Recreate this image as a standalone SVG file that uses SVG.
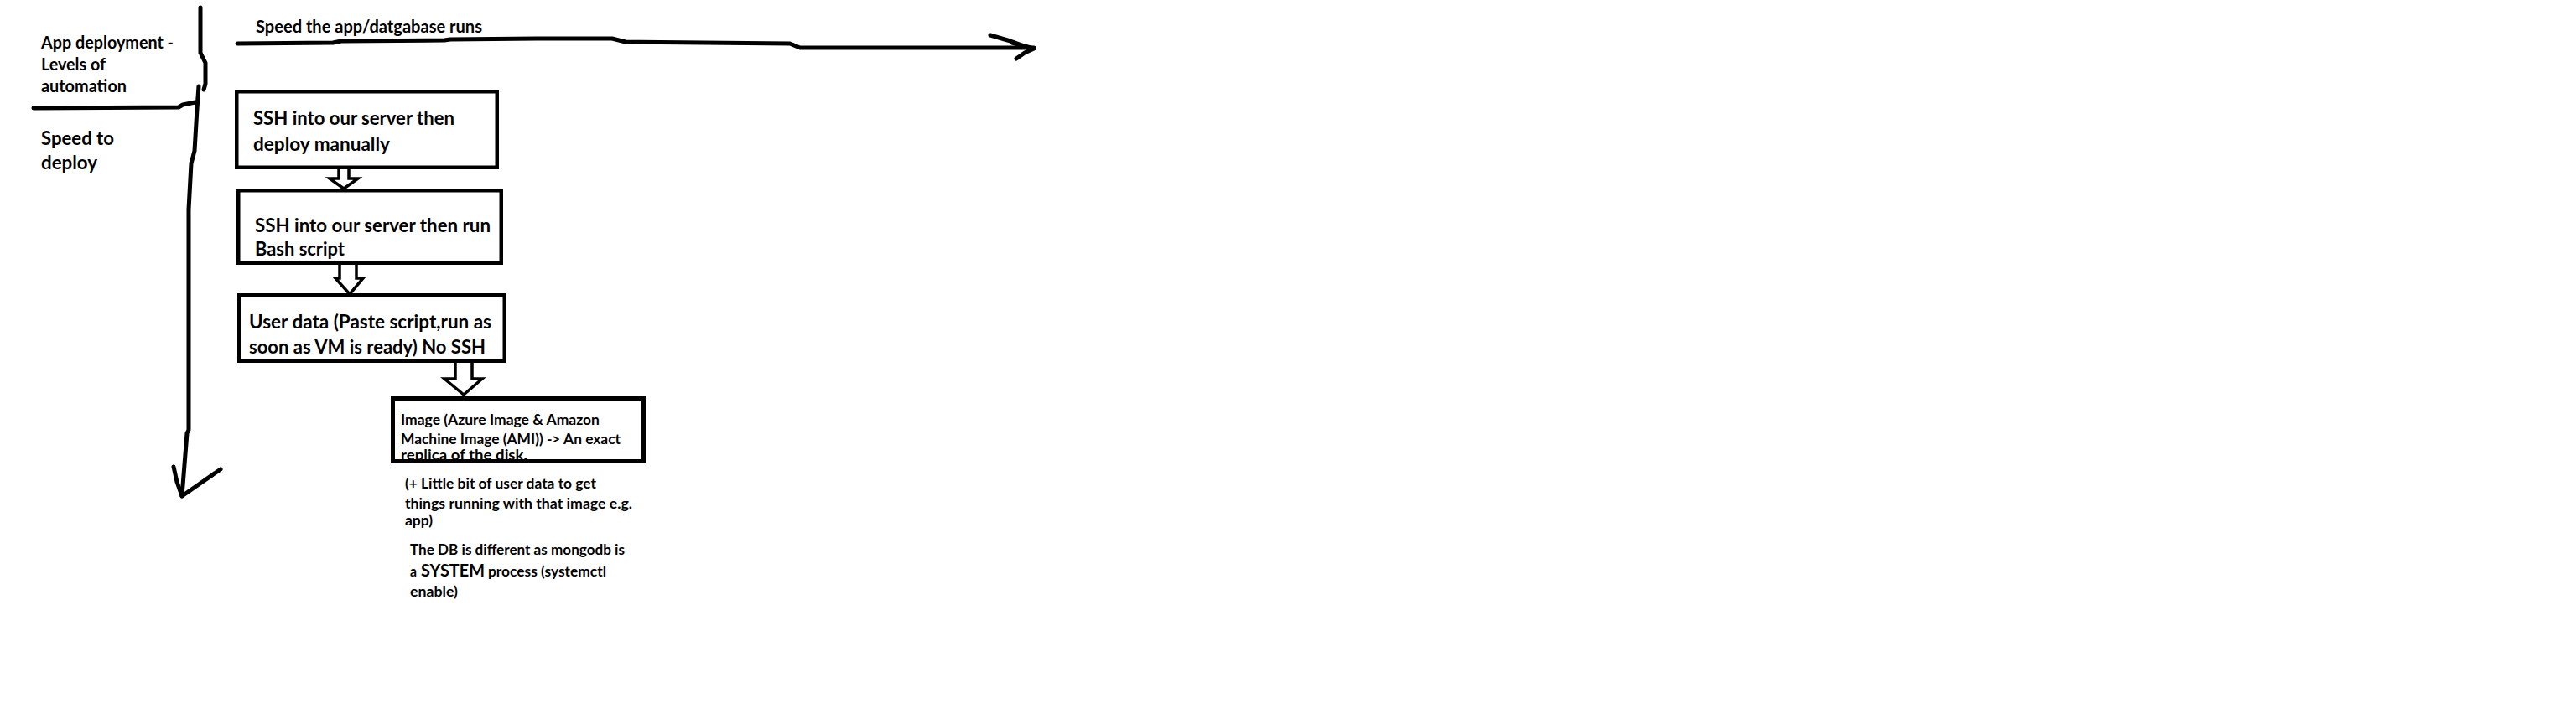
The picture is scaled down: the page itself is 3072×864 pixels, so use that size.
<svg xmlns="http://www.w3.org/2000/svg" width="3072" height="864" viewBox="0 0 3072 864">
<style>
  .t { font-family: "Lato", "Liberation Sans", sans-serif; font-weight: 700; fill: #000; }
  .lbl { font-size: 20.5px; }
  .big { font-size: 22.5px; }
  .box { font-size: 23px; }
  .sm { font-size: 16.5px; }
  .sys { font-size: 21px; }
  .frame { fill: #fff; stroke: #000; stroke-width: 4.5; }
  .pen { fill: none; stroke: #000; stroke-width: 5; stroke-linecap: round; stroke-linejoin: round; }
  .block { fill: #fff; stroke: #000; stroke-width: 3.5; stroke-linejoin: miter; }
</style>
<rect x="0" y="0" width="3072" height="864" fill="#fff"/>

<g id="connectors">
  <!-- vertical axis: Speed to deploy -->
  <path class="pen" d="M239,9 L239,63 L245,75 L245,100 L243,107"/>
  <path class="pen" d="M237,103 L235,130 L232,180 L228,195 L225,250 L225,513 L223,517 L217,592"/>
  <path class="pen" d="M207,557 L211,575 L217,592 L240,576 L263,560"/>
  <!-- left horizontal divider -->
  <path class="pen" d="M40,129 L213,128 L218,125 L233,122"/>
  <!-- horizontal axis: Speed the app runs -->
  <path class="pen" d="M283,52 L397,51 L407,49 L530,48 L537,47 L640,46 L730,46 L746,50 L942,52 L954,57 L1233,57"/>
  <path class="pen" stroke-width="5.5" d="M1181,42 L1205,49 L1216,53 L1207,51 L1222,55 L1233,58 L1222,63 L1212,70"/>
  <!-- block arrows between steps -->
  <polygon class="block" points="404,200 416,200 416,213 427,213 410,225 393,213 404,213"/>
  <polygon class="block" points="405,314 425,314 425,332 433,332 417,351 400,332 405,332"/>
  <polygon class="block" points="543,431 563,431 563,452 575,452 553,471 530,452 543,452"/>
</g>

<g id="title">
  <text class="t lbl" x="49" y="58" textLength="158" lengthAdjust="spacingAndGlyphs">App deployment -</text>
  <text class="t lbl" x="49" y="84" textLength="77" lengthAdjust="spacingAndGlyphs">Levels of</text>
  <text class="t lbl" x="49" y="110" textLength="102" lengthAdjust="spacingAndGlyphs">automation</text>
</g>

<g id="axis-deploy-label">
  <text class="t big" x="49" y="173" textLength="87" lengthAdjust="spacingAndGlyphs">Speed to</text>
  <text class="t big" x="49" y="202" textLength="67" lengthAdjust="spacingAndGlyphs">deploy</text>
</g>

<g id="axis-run-label">
  <text class="t lbl" x="305" y="39" textLength="270" lengthAdjust="spacingAndGlyphs">Speed the app/datgabase runs</text>
</g>

<g id="step1">
  <rect class="frame" x="282.25" y="109.25" width="310.5" height="90.5"/>
  <text class="t box" x="302" y="149" textLength="240" lengthAdjust="spacingAndGlyphs">SSH into our server then</text>
  <text class="t box" x="302" y="180" textLength="163" lengthAdjust="spacingAndGlyphs">deploy manually</text>
</g>

<g id="step2">
  <rect class="frame" x="284.25" y="227.25" width="313.5" height="86.5"/>
  <text class="t box" x="304" y="277" textLength="281" lengthAdjust="spacingAndGlyphs">SSH into our server then run</text>
  <text class="t box" x="304" y="305" textLength="107" lengthAdjust="spacingAndGlyphs">Bash script</text>
</g>

<g id="step3">
  <rect class="frame" x="285.25" y="352.25" width="316.5" height="78.5"/>
  <text class="t box" x="297" y="392" textLength="289" lengthAdjust="spacingAndGlyphs">User data (Paste script,run as</text>
  <text class="t box" x="297" y="422" textLength="282" lengthAdjust="spacingAndGlyphs">soon as VM is ready) No SSH</text>
</g>

<g id="step4">
  <rect x="468.5" y="475.5" width="299" height="75" fill="#fff"/>
  <text class="t sm" x="478" y="507" textLength="237" lengthAdjust="spacingAndGlyphs">Image (Azure Image &amp; Amazon</text>
  <text class="t sm" x="478" y="530" textLength="262" lengthAdjust="spacingAndGlyphs">Machine Image (AMI)) -&gt; An exact</text>
  <text class="t sm" x="478" y="549" textLength="151" lengthAdjust="spacingAndGlyphs">replica of the disk.</text>
  <rect x="468.5" y="475.5" width="299" height="75" fill="none" stroke="#000" stroke-width="5"/>
</g>

<g id="note-userdata">
  <text class="t sm" x="483" y="583" textLength="228" lengthAdjust="spacingAndGlyphs">(+ Little bit of user data to get</text>
  <text class="t sm" x="483" y="607" textLength="271" lengthAdjust="spacingAndGlyphs">things running with that image e.g.</text>
  <text class="t sm" x="483" y="627" textLength="33" lengthAdjust="spacingAndGlyphs">app)</text>
</g>

<g id="note-db">
  <text class="t sm" x="489" y="662" textLength="256" lengthAdjust="spacingAndGlyphs">The DB is different as mongodb is</text>
  <text class="t sm" x="489" y="688" textLength="8" lengthAdjust="spacingAndGlyphs">a</text>
  <text class="t sys" x="502" y="688" textLength="76" lengthAdjust="spacingAndGlyphs">SYSTEM</text>
  <text class="t sm" x="582" y="688" textLength="141" lengthAdjust="spacingAndGlyphs">process (systemctl</text>
  <text class="t sm" x="489" y="712" textLength="57" lengthAdjust="spacingAndGlyphs">enable)</text>
</g>
</svg>
